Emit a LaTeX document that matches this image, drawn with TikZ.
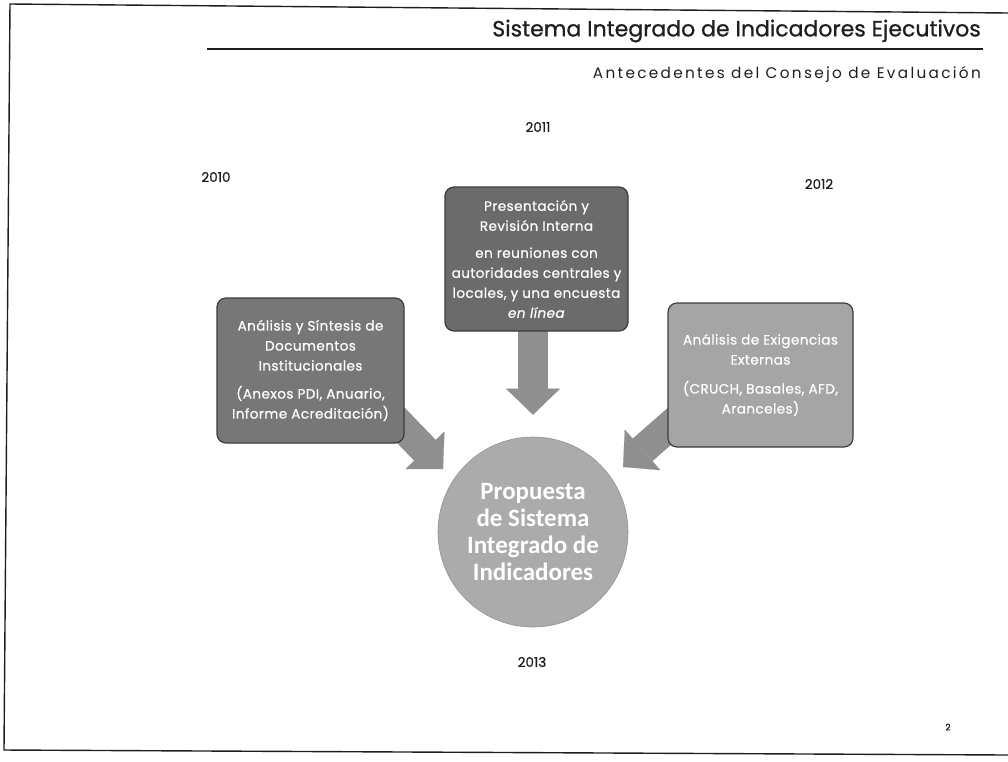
\documentclass[tikz,border=0pt]{standalone}
\usepackage{fontspec}
\setmainfont{Poppins}
\newfontfamily\circfont{Carlito}
\newfontfamily\boxfont[LetterSpace=3,FakeBold=0.6]{Poppins}
\newfontfamily\headfont[FakeBold=0.8]{Poppins}
\newfontfamily\yearfont[FakeBold=1]{Poppins}
\usetikzlibrary{arrows.meta,backgrounds,calc}
\definecolor{boxA}{HTML}{777777}
\definecolor{boxB}{HTML}{6B6B6B}
\definecolor{boxC}{HTML}{A5A5A5}
\definecolor{circfill}{HTML}{ABABAB}
\definecolor{arrfill}{HTML}{8F8F8F}
\definecolor{edgecol}{HTML}{3C3C3C}
\definecolor{inkcol}{HTML}{1E1E1E}
\begin{document}
\begin{tikzpicture}[x=1pt,y=-1pt,
  infobox/.style={draw=edgecol, line width=1.2pt, rounded corners=9pt, text=white,
    align=center, inner sep=0pt, font=\boxfont\fontsize{13.6}{20}\selectfont},
  yearlabel/.style={font=\yearfont\fontsize{13.5}{15}\selectfont, text=inkcol, inner sep=0pt},
  blockarrow/.style={line width=30pt, color=arrfill,
    -{Triangle[length=26pt,width=54pt,line width=0.1pt]}}]
\useasboundingbox (0,0) rectangle (1008,761);
% frame
\draw[line width=1.4pt, inkcol] (1008,13) -- (10,4) -- (4,750) -- (1008,755);
% header
\node[anchor=east, font=\headfont\fontsize{22}{24}\selectfont, text=inkcol, inner sep=0pt] (title) at (981,31) {Sistema Integrado de Indicadores Ejecutivos};
\coordinate (ruleL) at (207,49);
\coordinate (ruleR) at (983,49);
\draw[line width=1.5pt, inkcol] (ruleL) -- (ruleR);
\node[anchor=east, font=\fontsize{15.3}{17}\selectfont\addfontfeature{LetterSpace=15}, text=inkcol, inner sep=0pt] (subtitle) at (981,74) {Antecedentes del Consejo de Evaluación};
% years
\node[yearlabel] (y2010) at (216,177) {2010};
\node[yearlabel] (y2011) at (538,127) {2011};
\node[yearlabel] (y2012) at (819,184) {2012};
\node[yearlabel] (y2013) at (532,662) {2013};
\node[font=\yearfont\fontsize{9}{10}\selectfont, text=inkcol, inner sep=0pt] (pagenum) at (948,727) {2};
% boxes
\node[infobox, fill=boxA, minimum width=187pt, minimum height=145pt] (lbox) at (310.5,370.5)
  {Análisis y Síntesis de\\Documentos\\Institucionales\\[8pt](Anexos PDI, Anuario,\\Informe Acreditación)};
\node[infobox, fill=boxB, minimum width=183pt, minimum height=144pt] (cbox) at (536.5,259)
  {Presentación y\\Revisión Interna\\[7pt]en reuniones con\\autoridades centrales y\\locales, y una encuesta\\\textit{en línea}};
\node[infobox, fill=boxC, minimum width=185pt, minimum height=144pt] (rbox) at (760.5,375)
  {Análisis de Exigencias\\Externas\\[9pt](CRUCH, Basales, AFD,\\Aranceles)};
% circle
\node[circle, fill=circfill, draw=circfill!85!black, line width=0.6pt, minimum size=190pt, inner sep=0pt,
  text=white, align=center, font=\circfont\bfseries\fontsize{25}{27}\selectfont] (circ) at (533,532)
  {Propuesta\\de Sistema\\Integrado de\\Indicadores};
% arrows
\coordinate (ltip) at (443,469);
\coordinate (rtip) at (623,467);
\begin{scope}[on background layer]
  \draw[blockarrow] ($(circ.north |- cbox.south)+(0,-4)$) -- ($(circ.north)+(0,-22)$);
  \draw[blockarrow] ($(lbox.south east)+(-15,-30)$) -- (ltip);
  \draw[blockarrow] ($(rbox.south west)+(12,-30)$) -- (rtip);
\end{scope}
\end{tikzpicture}
\end{document}
